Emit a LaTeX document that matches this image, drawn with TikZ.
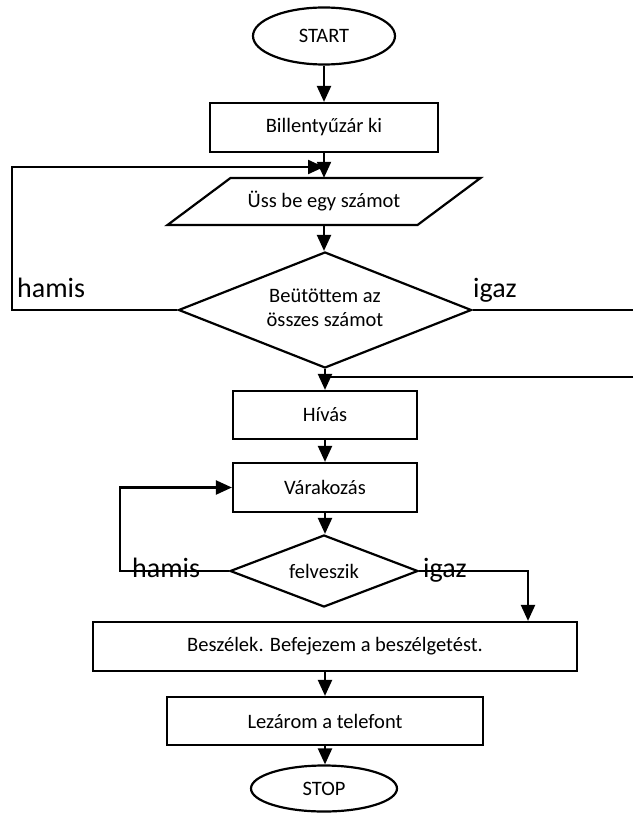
\documentclass[tikz,border=0pt]{standalone}
\usepackage{fontspec}
\setmainfont{Carlito}
\usetikzlibrary{shapes.geometric,arrows.meta,calc}
\begin{document}
\begin{tikzpicture}[x=1pt,y=-1pt,
  line/.style={line width=2.2pt},
  flow/.style={line, -{Triangle[length=16pt,width=14pt]}},
  txt/.style={font=\fontsize{20.5}{24}\selectfont},
  terminal/.style={ellipse, draw, line, txt, inner sep=0pt},
  process/.style={rectangle, draw, line, txt, inner sep=0pt},
  decision/.style={diamond, draw, line, txt, inner sep=0pt, align=center},
  branch/.style={font=\fontsize{28}{30}\selectfont, inner sep=0pt, anchor=base west},
]
\useasboundingbox[fill=white] (0,0) rectangle (633,813);

% main column
\node[terminal, minimum width=142pt, minimum height=57pt] (start) at (324,36) {START};
\node[process, minimum width=228pt, minimum height=49pt] (lock) at (324,127.5) {Billentyűzár ki};
\node[txt, inner sep=0pt, minimum width=250pt, minimum height=47pt] (input) at (324,201.5) {Üss be egy számot};
\draw[line] (230.5,178) -- (480.5,178) -- (417.5,225) -- (167.5,225) -- cycle;
\node[decision, shape aspect=2.53, minimum width=293pt, minimum height=116pt] (check) at (325,310) {\raisebox{-5pt}{\begin{tabular}{@{}c@{}}Beütöttem az\\összes számot\end{tabular}}};
\node[process, minimum width=184pt, minimum height=48pt] (call) at (325,415) {Hívás};
\node[process, minimum width=184pt, minimum height=49pt] (wait) at (325,487.5) {Várakozás};
\node[decision, shape aspect=2.6, minimum width=188pt, minimum height=72pt] (answer) at (324,571) {felveszik};
\node[process, minimum width=484pt, minimum height=49pt] (talk) at (335,646.5) {Beszélek. Befejezem a beszélgetést.};
\node[process, minimum width=316pt, minimum height=48pt] (hangup) at (325,721) {Lezárom a telefont};
\node[terminal, minimum width=146pt, minimum height=46pt] (stop) at (324,788.5) {STOP};

% branch labels
\node[branch] (no1) at (17,297) {hamis};
\node[branch] (yes1) at (473,297) {igaz};
\node[branch] (no2) at (132,577) {hamis};
\node[branch] (yes2) at (423,577) {igaz};

% helper points for the loops
\coordinate (loopin) at (324,167);
\coordinate (rightout) at (633,310);
\coordinate (rightback) at (633,377);
\coordinate (yesturn) at (528,571);

% connectors
\draw[flow] (start.south) -- (start.south |- lock.north);
\draw[flow] (lock.south) -- (lock.south |- input.north);
\draw[flow] (check.west) -- ++(-165.5,0) |- (loopin);
\draw[flow] (input.south) -- (input.south |- check.north);
\draw[line] (check.east) -- (rightout);
\draw[line] (rightback) -- (rightback -| call.north);
\draw[flow] (check.south) -- (call.north);
\draw[flow] (call.south) -- (wait.north);
\draw[flow] (wait.south) -- (wait.south |- answer.north);
\draw[flow] (answer.west) -- ++(-109,0) |- (wait.west);
\draw[flow] (answer.east) -- (yesturn) -- (yesturn |- talk.north);
\draw[flow] (hangup.north |- talk.south) -- (hangup.north);
\draw[flow] (hangup.south) -- (hangup.south |- stop.north);
\end{tikzpicture}
\end{document}
